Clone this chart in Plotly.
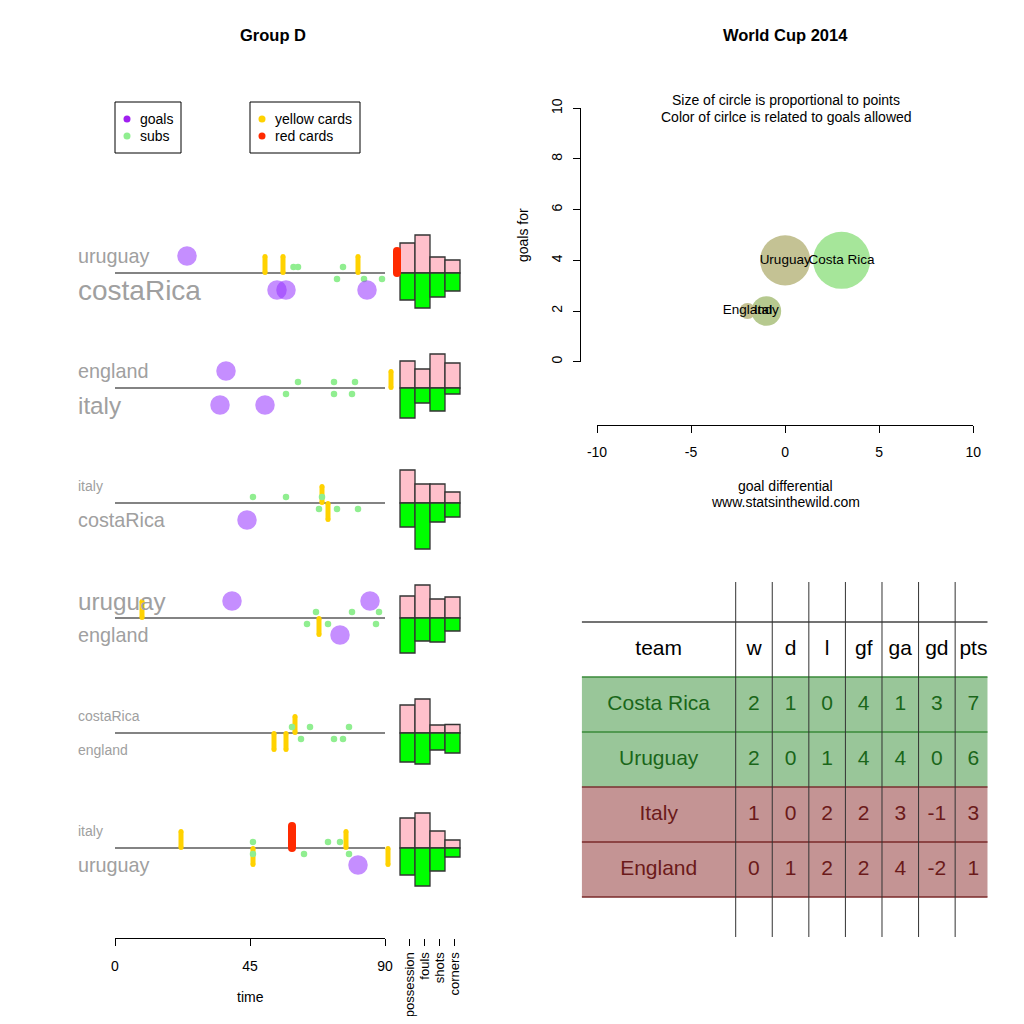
import math
import plotly.graph_objects as go

FONT = 'Liberation Sans, Arial, sans-serif'
OFF = 8                      # page body margin
W = H = 1024 - 2 * OFF

# ---------------- Group D matches (top team / bottom team) ----------------
top_team = ['uruguay', 'england', 'italy', 'uruguay', 'costaRica', 'italy']
bottom_team = ['costaRica', 'italy', 'costaRica', 'england', 'england', 'uruguay']

# minute of each event
top_goals = [[24], [37], [], [39, 85], [], []]
bottom_goals = [[54, 57, 84], [35, 50], [44], [75], [], [81]]
top_subs = [[59.5, 61, 76], [61, 73, 80], [46, 57, 69], [67, 79, 88], [59, 65, 78], [46, 71, 75]]
bottom_subs = [[74, 83, 89], [57, 73, 79], [68, 74, 81], [64, 71, 87], [62, 73, 76], [46, 63, 78]]
top_yellow = [[50, 56, 81], [92], [69], [9], [60], [22, 77]]
bottom_yellow = [[], [], [71], [68], [53, 57], [46, 91]]
top_red = [[94], [], [], [], [], [59]]

# match stats (relative bar heights)
stat_names = ['possession', 'fouls', 'shots', 'corners']
top_stats = [[30, 38, 16, 13], [27, 19, 34, 25], [33, 19, 19, 11],
             [22, 33, 19, 21], [28, 34, 8, 8.5], [30, 35, 17, 8]]
bottom_stats = [[27, 35, 24, 18], [30, 15, 23, 6], [24, 46, 19, 14],
                [35, 23, 24, 13], [29, 31, 17, 20], [27, 38, 23, 9]]

# ---------------- final standings ----------------
teams = ['Costa Rica', 'Uruguay', 'Italy', 'England']
wins = [2, 2, 1, 0]
draws = [1, 0, 0, 1]
losses = [0, 1, 2, 2]
gf = [4, 4, 2, 2]
ga = [1, 4, 3, 4]
gd = [3, 0, -1, -2]
pts = [7, 6, 3, 1]
header = ['team', 'w', 'd', 'l', 'gf', 'ga', 'gd', 'pts']
bubble_colors = ['#A6E69A', '#C4C294', '#B6C98F', '#C4C192']
gd_ticks = [-10, -5, 0, 5, 10]
gf_ticks = [0, 2, 4, 6, 8, 10]
time_ticks = [0, 45, 90]

# ---------------- layout helpers ----------------
T0_PX, PX_PER_MIN = 115, 3          # minute 0 sits at x=115px
ROW0, ROW_GAP = 273, 115             # baseline of first match, spacing
baselines = [ROW0 + ROW_GAP * i for i in range(len(top_team))]
stat_x = [97.5 + 5 * k for k in range(len(stat_names))]


def px(v):
    return (v - OFF) / W


def py(v):
    return 1 - (v - OFF) / H


def mins(xpx):
    return (xpx - T0_PX) / PX_PER_MIN


def points(times_list, off):
    xs, ys = [], []
    for i, times in enumerate(times_list):
        for t in times:
            xs.append(t)
            ys.append(baselines[i] + off)
    return xs, ys


def segments(times_list, y0, y1):
    xs, ys = [], []
    for i, times in enumerate(times_list):
        for t in times:
            xs += [t, t, None]
            ys += [baselines[i] + y0, baselines[i] + y1, None]
    return xs, ys


fig = go.Figure()

# baselines
bx, by = [], []
for b in baselines:
    bx += [0, 90, None]
    by += [b, b, None]
fig.add_trace(go.Scatter(x=bx, y=by, mode='lines', line=dict(color='#5a5a5a', width=1.4)))

# stat bars
for stats, sign, col in [(top_stats, -1, '#FFC0CB'), (bottom_stats, 1, '#00FF00')]:
    xs, ys, bases = [], [], []
    for i, row in enumerate(stats):
        for k, v in enumerate(row):
            xs.append(stat_x[k])
            ys.append(sign * v)
            bases.append(baselines[i])
    fig.add_trace(go.Bar(x=xs, y=ys, base=bases, width=5,
                         marker=dict(color=col, line=dict(color='#333333', width=1.3))))

# cards (rounded ends via end markers)
for times, y0, y1, col, lw in [(top_yellow, -16.5, -0.5, '#FFD200', 5),
                               (bottom_yellow, 0.5, 16.5, '#FFD200', 5),
                               (top_red, -22, 0, '#FF2A00', 8)]:
    xs, ys = segments(times, y0, y1)
    fig.add_trace(go.Scatter(x=xs, y=ys, mode='lines+markers',
                             line=dict(color=col, width=lw),
                             marker=dict(color=col, size=lw, opacity=1), cliponaxis=False))

# substitutions
for times, off in [(top_subs, -6), (bottom_subs, 6)]:
    xs, ys = points(times, off)
    fig.add_trace(go.Scatter(x=xs, y=ys, mode='markers',
                             marker=dict(color='#90EE90', size=6.5, opacity=1)))

# goals
for times, off in [(top_goals, -17), (bottom_goals, 17)]:
    xs, ys = points(times, off)
    fig.add_trace(go.Scatter(x=xs, y=ys, mode='markers',
                             marker=dict(color='rgba(150,50,255,0.55)', size=19.5)))

# team names sized by goals scored
ann = []
for i, b in enumerate(baselines):
    for name, goals, off in [(top_team[i], top_goals[i], -17), (bottom_team[i], bottom_goals[i], 17)]:
        ann.append(dict(x=mins(76), y=b + off, xref='x', yref='y', text=name,
                        xanchor='left', yanchor='middle', showarrow=False,
                        font=dict(size=14 * math.sqrt(len(goals) + 1), color='#A0A0A0')))

# legend dots
leg_items = [('goals', '#A020F0', 127, 119), ('subs', '#90EE90', 127, 136),
             ('yellow cards', '#FFD200', 262, 119), ('red cards', '#FF2A00', 262, 136)]
fig.add_trace(go.Scatter(x=[mins(it[2]) for it in leg_items], y=[it[3] for it in leg_items],
                         mode='markers',
                         marker=dict(color=[it[1] for it in leg_items], size=7, opacity=1)))
for label, _, xp, yp in leg_items:
    ann.append(dict(x=mins(xp + 11), y=yp, xref='x', yref='y', text=label, xanchor='left',
                    yanchor='middle', showarrow=False, font=dict(size=14, color='black')))

# dummy traces so the free time / stat axes get drawn
fig.add_trace(go.Scatter(x=[0], y=[-100], xaxis='x2', yaxis='y', mode='markers', opacity=0))
fig.add_trace(go.Scatter(x=[100], y=[-100], xaxis='x3', yaxis='y', mode='markers', opacity=0))

# ---------------- bubble chart ----------------
fig.add_trace(go.Scatter(
    x=gd, y=gf, mode='markers+text', text=teams, textposition='middle center',
    textfont=dict(size=13.5, color='black'),
    marker=dict(size=[9.2 + 6.83 * p for p in pts], sizemode='diameter', opacity=1,
                color=bubble_colors, line=dict(width=0)),
    xaxis='x5', yaxis='y5', cliponaxis=False))

# ---------------- standings table ----------------
TEAM_W = 4.21                 # width of team column in stat-column units
TABLE_R = TEAM_W + 6 + 0.89
col_x = [TEAM_W / 2] + [TEAM_W + k + 0.5 for k in range(7)]
rows = list(zip(teams, wins, draws, losses, gf, ga, gd, pts))
fill_cols = ['#99C699', '#99C699', '#C49494', '#C49494']
text_cols = ['#1A661A', '#1A661A', '#6B1A1A', '#6B1A1A']

tx, ty, tt, tc = [], [], [], []
for j, h in enumerate(header):
    tx.append(col_x[j]); ty.append(0.5); tt.append(h); tc.append('black')
for r, row in enumerate(rows):
    for j, v in enumerate(row):
        tx.append(col_x[j]); ty.append(r + 1.5); tt.append(str(v)); tc.append(text_cols[r])
fig.add_trace(go.Scatter(x=tx, y=ty, text=tt, mode='text', textposition='middle center',
                         textfont=dict(size=21, color=tc), xaxis='x4', yaxis='y4'))

shapes = []
for r in range(len(rows)):
    shapes.append(dict(type='rect', xref='x4', yref='y4', x0=0, x1=TABLE_R, y0=r + 1, y1=r + 2,
                       fillcolor=fill_cols[r], line=dict(width=0), layer='below'))
hline_cols = ['#444444', '#3A8A3A', '#3A8A3A', '#7A3030', '#7A2A2A', '#7A2A2A']
for k, c in enumerate(hline_cols):
    shapes.append(dict(type='line', xref='x4', yref='y4', x0=0, x1=TABLE_R, y0=k, y1=k,
                       line=dict(color=c, width=1.3)))
for k in range(7):
    shapes.append(dict(type='line', xref='x4', yref='y4', x0=TEAM_W + k, x1=TEAM_W + k,
                       y0=-0.727, y1=5.727, line=dict(color='#333333', width=1)))

# legend boxes
for x0, x1 in [(115, 181), (250, 360)]:
    shapes.append(dict(type='rect', xref='paper', yref='paper', x0=px(x0), x1=px(x1),
                       y0=py(153), y1=py(102), line=dict(color='black', width=1)))

# titles and notes
for text, xp, yp, size, ang in [
        ('<b>Group D</b>', 273, 35, 16.5, 0),
        ('<b>World Cup 2014</b>', 785, 35, 16.5, 0),
        ('Size of circle is proportional to points', 786, 100, 14, 0),
        ('Color of cirlce is related to goals allowed', 786, 117, 14, 0),
        ('goal differential', 785, 486, 14, 0),
        ('www.statsinthewild.com', 785, 502, 14, 0),
        ('goals for', 523, 235, 14, -90),
        ('time', 250, 997, 14, 0)]:
    ann.append(dict(x=px(xp), y=py(yp), xref='paper', yref='paper', text=text, showarrow=False,
                    xanchor='center', yanchor='middle', textangle=ang,
                    font=dict(size=size, color='black')))

axis_common = dict(showgrid=False, zeroline=False, linecolor='black', linewidth=1,
                   ticks='outside', ticklen=7, tickcolor='black', tickwidth=1,
                   tickfont=dict(size=14, color='black'))

fig.update_layout(
    width=W, height=H, margin=dict(l=0, r=0, t=0, b=0, pad=0, autoexpand=False),
    paper_bgcolor='white', plot_bgcolor='rgba(0,0,0,0)',
    font=dict(family=FONT, color='black'),
    showlegend=False, barmode='overlay', hovermode=False,
    shapes=shapes, annotations=ann,
    xaxis=dict(domain=[0, px(512)], range=[mins(OFF), mins(512)], visible=False),
    yaxis=dict(domain=[0, 1], range=[OFF + H, OFF], visible=False),
    xaxis2=dict(domain=[px(115), px(385)], range=[0, 90], anchor='free', position=py(938),
                showline=True, tickvals=time_ticks, ticklabelstandoff=8, **axis_common),
    xaxis3=dict(domain=[px(400), px(460)], range=[95, 115], anchor='free', position=py(938),
                showline=False, tickvals=[x + 0.8 for x in stat_x], ticktext=stat_names,
                tickangle=-90, ticklabelstandoff=1,
                **{**axis_common, 'tickfont': dict(size=13, color='black')}),
    xaxis5=dict(domain=[px(597), px(973.3)], range=[-10, 10], anchor='free', position=py(425),
                showline=True, tickvals=gd_ticks, ticktext=[str(v) for v in gd_ticks],
                ticklabelstandoff=7, **axis_common),
    yaxis5=dict(domain=[py(361.7), py(108.3)], range=[0, 10], anchor='free', position=px(580),
                showline=True, tickvals=gf_ticks, ticktext=[str(v) for v in gf_ticks],
                tickangle=-90, ticklabelstandoff=5, **axis_common),
    xaxis4=dict(domain=[px(581.7), px(987.7)], range=[0, TABLE_R], visible=False),
    yaxis4=dict(domain=[py(937), py(582)], range=[5.727, -0.727], visible=False),
)

fig.write_html("out.html")
